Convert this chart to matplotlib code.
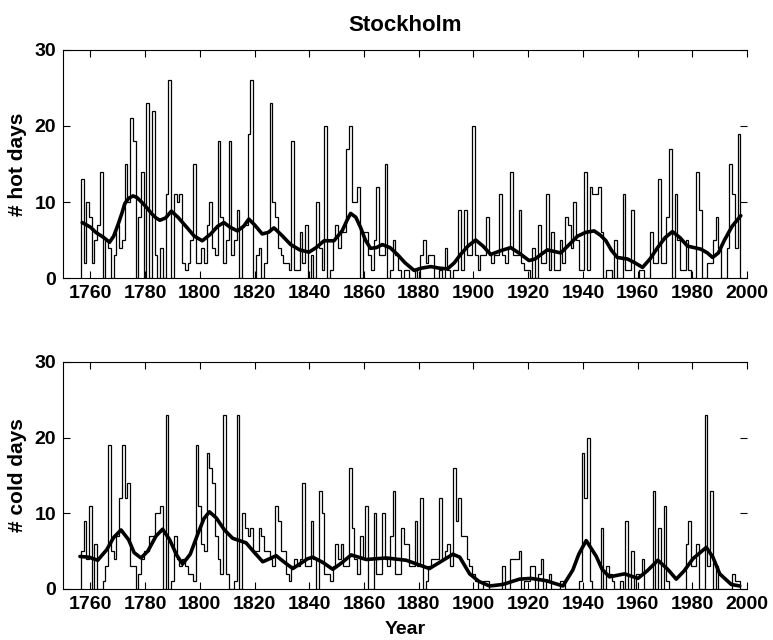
import numpy as np
import matplotlib.pyplot as plt

plt.rcParams['font.family'] = ['Liberation Sans', 'DejaVu Sans']
plt.rcParams['font.weight'] = 'bold'

# ---- data ----
first_year = 1757

hot_days = [
    13, 2, 10,
    8, 2, 5, 7, 14, 0, 5, 4, 0, 3,
    7, 4, 5, 15, 10, 21, 18, 0, 8, 14,
    0, 23, 0, 22, 3, 0, 4, 0, 11, 26,
    0, 11, 10, 11, 2, 1, 2, 5, 15, 2,
    2, 4, 2, 7, 10, 4, 3, 18, 8, 2,
    5, 18, 3, 5, 9, 0, 7, 7, 19, 26,
    0, 3, 4, 0, 2, 6, 23, 10, 8, 4,
    3, 2, 2, 1, 18, 1, 1, 6, 2, 7,
    0, 3, 0, 10, 4, 1, 20, 0, 1, 5,
    7, 4, 6, 6, 17, 20, 10, 10, 12, 0,
    6, 6, 3, 1, 5, 12, 3, 3, 15, 0,
    1, 5, 3, 1, 0, 1, 1, 0, 0, 1,
    0, 3, 5, 2, 3, 3, 0, 0, 1, 0,
    4, 1, 0, 1, 1, 9, 1, 9, 3, 3,
    20, 3, 1, 3, 3, 8, 3, 2, 3, 3,
    11, 3, 2, 4, 14, 3, 3, 9, 2, 1,
    1, 0, 4, 0, 7, 2, 2, 11, 1, 6,
    1, 1, 5, 2, 8, 7, 4, 10, 5, 1,
    1, 14, 1, 12, 11, 11, 12, 6, 0, 1,
    1, 0, 5, 0, 0, 11, 1, 1, 9, 0,
    0, 1, 1, 0, 0, 6, 2, 2, 13, 2,
    2, 8, 17, 0, 11, 5, 1, 1, 5, 1,
    0, 0, 14, 9, 0, 0, 2, 2, 5, 8,
    4, 0, 0, 4, 15, 11, 4, 19,
]

cold_days = [
    5, 9, 4,
    11, 0, 6, 0, 0, 1, 3, 19, 5, 4,
    7, 12, 19, 12, 14, 3, 3, 0, 2, 4,
    5, 5, 7, 7, 10, 10, 11, 0, 23, 0,
    1, 7, 4, 3, 4, 3, 2, 2, 1, 19,
    11, 6, 5, 18, 16, 14, 7, 4, 2, 23,
    2, 0, 0, 1, 23, 0, 10, 8, 7, 8,
    5, 5, 8, 7, 5, 5, 4, 3, 11, 9,
    5, 5, 2, 1, 3, 4, 3, 4, 14, 3,
    3, 9, 4, 0, 13, 10, 2, 2, 1, 3,
    6, 4, 6, 3, 3, 16, 8, 4, 2, 7,
    4, 11, 0, 0, 10, 2, 2, 10, 4, 3,
    7, 13, 2, 2, 8, 6, 6, 3, 3, 9,
    3, 12, 0, 1, 3, 4, 4, 4, 12, 4,
    5, 6, 3, 16, 9, 12, 7, 7, 4, 3,
    2, 1, 0, 0, 1, 1, 0, 0, 0, 0,
    0, 3, 0, 0, 4, 4, 4, 5, 0, 1,
    1, 3, 3, 0, 2, 4, 0, 1, 2, 0,
    0, 0, 1, 1, 0, 0, 0, 0, 0, 1,
    18, 12, 20, 1, 0, 0, 0, 8, 0, 3,
    2, 1, 0, 0, 1, 0, 9, 0, 5, 0,
    2, 2, 4, 0, 0, 0, 13, 0, 8, 0,
    11, 1, 0, 0, 0, 0, 0, 0, 6, 9,
    3, 3, 6, 0, 0, 23, 3, 13, 0, 3,
    0, 0, 0, 0, 0, 2, 1, 1,
]

# smoothed curves, read at points along the thick line
hot_smooth_years = [1757, 1760, 1762, 1765, 1767, 1768.5, 1770, 1771.5, 1772.6, 1774,
                    1775.6, 1777, 1778.7, 1780.5, 1782.3, 1784, 1785.4, 1787.5,
                    1789.6, 1792, 1795.4, 1798, 1800.9, 1804, 1806.5, 1808.8, 1811,
                    1813.7, 1816, 1817.9, 1820, 1822.8, 1825, 1827.1, 1830, 1833.2,
                    1836.5, 1839.9, 1842.5, 1845.4, 1849, 1852, 1853.8, 1855.1,
                    1857, 1858.8, 1860.5, 1862.4, 1864.5, 1866.7, 1869.5, 1872.2,
                    1875, 1878.3, 1881, 1884.4, 1887.5, 1890.5, 1893, 1895.3, 1898,
                    1900.8, 1903.5, 1906.3, 1910, 1913.6, 1917, 1920.3, 1922.5,
                    1924.7, 1927, 1931.9, 1935, 1938, 1941, 1944.1, 1946.5, 1948.4,
                    1950.5, 1952.6, 1956.3, 1959, 1961.8, 1964.5, 1967.3, 1970,
                    1972.7, 1975.5, 1978.2, 1983.1, 1985.5, 1987.4, 1989.5, 1991.6,
                    1994.5, 1997.7]
hot_smooth = [7.3, 6.7, 6.0, 5.3, 4.7, 5.5, 6.9, 8.5, 9.8, 10.5,
              10.8, 10.6, 10.0, 9.3, 8.5, 7.9, 7.6, 7.9,
              8.8, 8.0, 6.6, 5.5, 4.9, 5.8, 6.8, 7.3, 6.7,
              6.2, 6.8, 7.75, 7.0, 5.8, 6.0, 6.6, 5.6, 4.4,
              3.7, 3.4, 4.0, 4.9, 4.9, 6.2, 7.6, 8.5,
              8.0, 6.6, 5.0, 3.9, 4.0, 4.4, 4.0, 3.1,
              2.0, 1.0, 1.3, 1.5, 1.3, 1.2, 2.0, 3.1, 4.2,
              5.0, 4.2, 3.1, 3.6, 4.0, 3.2, 2.3, 2.5,
              3.1, 3.7, 3.3, 4.4, 5.5, 6.0, 6.2, 5.6, 4.9,
              3.6, 2.7, 2.5, 2.0, 1.4, 2.5, 4.0, 5.3,
              6.1, 5.3, 4.2, 3.8, 3.3, 2.7, 3.3, 4.9,
              6.8, 8.2]

cold_smooth_years = [1756.2, 1759.5, 1762.7, 1766, 1768.5, 1771.2, 1774, 1776, 1778.5,
                     1781, 1784, 1786.4, 1789, 1791.5, 1793.7, 1796.5, 1799.5,
                     1801.5, 1803.5, 1806, 1809, 1812, 1816.9, 1820, 1823, 1825.5,
                     1827.9, 1831, 1834, 1836.5, 1839.4, 1841.3, 1845, 1848.6, 1852,
                     1855.3, 1860.8, 1868.1, 1875.4, 1880, 1883.9, 1888, 1892.5,
                     1895, 1898.6, 1902, 1905.9, 1910.7, 1916.8, 1921, 1926.6,
                     1930, 1932.7, 1936.3, 1938.5, 1941.2, 1944.9, 1947, 1949.7,
                     1955.2, 1960.1, 1963.5, 1967.4, 1971, 1974.1, 1977, 1980.2,
                     1985.1, 1987.5, 1990, 1994.2, 1997.3]
cold_smooth = [4.3, 4.2, 3.8, 5.2, 6.8, 7.8, 6.5, 4.8, 4.1,
               5.0, 7.0, 7.9, 6.5, 4.5, 3.3, 4.6, 7.5,
               9.3, 10.2, 9.4, 7.8, 6.7, 6.1, 4.8, 3.6, 4.0,
               4.4, 3.5, 2.7, 3.3, 4.0, 4.2, 3.5, 2.6, 3.5,
               4.5, 3.9, 4.1, 3.8, 3.2, 2.7, 3.6, 4.6,
               4.2, 2.0, 1.0, 0.4, 0.6, 1.3, 1.4, 1.1,
               0.7, 0.4, 2.5, 4.6, 6.4, 4.3, 2.6, 1.6,
               2.0, 1.4, 2.4, 3.8, 2.6, 1.3, 2.4, 4.0,
               5.5, 4.2, 2.0, 0.6, 0.4]

x_ticks = [1760, 1780, 1800, 1820, 1840, 1860, 1880, 1900, 1920, 1940, 1960, 1980, 2000]
y_ticks = [0, 10, 20, 30]


def style_axes(ax, ylabel):
    ax.set_xlim(1750, 2000)
    ax.set_ylim(0, 30)
    ax.set_xticks(x_ticks)
    ax.set_yticks(y_ticks)
    ax.tick_params(direction='in', length=5, width=0.8, top=True, right=True,
                   labelsize=14, pad=5)
    ax.spines['right'].set_visible(False)
    for s in ['left', 'top', 'bottom']:
        ax.spines[s].set_linewidth(0.8)
    ax.set_ylabel(ylabel, fontsize=15, fontweight='bold', labelpad=5)


def draw_panel(ax, counts, sm_years, sm_vals, ylabel):
    edges = np.arange(first_year, first_year + len(counts) + 1) - 0.5
    ax.stairs(counts, edges, baseline=0, color='black', linewidth=0.9)
    ax.plot(sm_years, sm_vals, color='black', linewidth=2.6,
            solid_joinstyle='round', solid_capstyle='round')
    style_axes(ax, ylabel)


fig = plt.figure(figsize=(7.73, 6.4), dpi=100)
ax1 = fig.add_axes([0.0815, 0.5656, 0.885, 0.3563])
ax2 = fig.add_axes([0.0815, 0.0797, 0.885, 0.3547])

draw_panel(ax1, hot_days, hot_smooth_years, hot_smooth, '# hot days')
draw_panel(ax2, cold_days, cold_smooth_years, cold_smooth, '# cold days')

ax1.set_title('Stockholm', fontsize=16, fontweight='bold', pad=14)
ax2.set_xlabel('Year', fontsize=14, fontweight='bold', labelpad=6)

fig.savefig('out.png', dpi=100)
